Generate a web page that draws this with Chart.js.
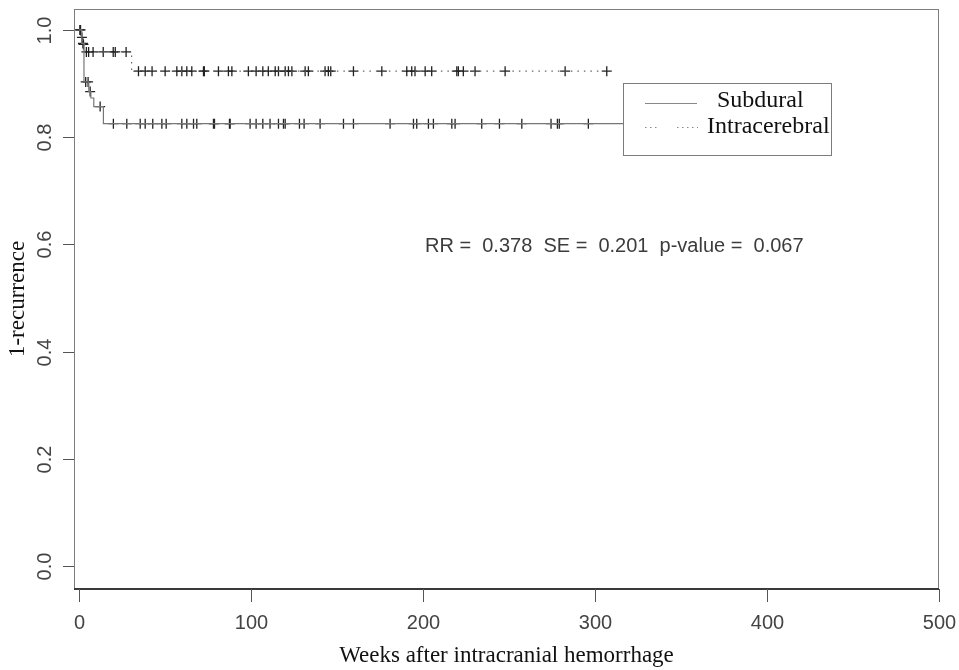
<!DOCTYPE html>
<html><head><meta charset="utf-8">
<script src="https://cdn.jsdelivr.net/npm/chart.js@4.4.0/dist/chart.umd.min.js"></script>
<style>html,body{margin:0;padding:0;background:#fff;}#wrap{width:959px;height:670px;}</style>
</head><body><div id="wrap"><canvas id="c" width="959" height="670"></canvas></div>
<script>
// ---- data (weeks, survival) ----
const subduralTimes = [0, 1.5, 2.8, 5.6, 6.8, 8.5, 14.1];
const subduralSurv  = [1.0, 0.975, 0.903, 0.885, 0.873, 0.857, 0.825];
const subduralEnd   = 320;
const subduralCensor = [0.8, 2.2, 3.8, 5.2, 6.4, 12.2, 19.9, 27.7, 35.5, 38.4, 42.8, 48.1, 50.6, 59.7, 62.6, 66.5, 68.4,
  78.1, 78.7, 87.4, 87.8, 99.4, 102.9, 106.8, 111, 115.9, 118.8, 119.8, 128.1, 130.8, 140.1, 153.7, 159.5, 180.8,
  194.4, 196.3, 203.1, 206, 216.7, 218.6, 234.1, 244.4, 257.4, 274.4, 278.1, 279.2, 296.1];

const intraTimes = [0, 1.0, 2.0, 3.2, 30.5];
const intraSurv  = [1.0, 0.986, 0.973, 0.959, 0.923];
const intraEnd   = 308;
const intraCensor = [0.4, 1.6, 2.5, 4.2, 5.5, 8.1, 14, 19.8, 21, 27.3, 34.5, 38.4, 42.4, 50, 56.8, 59.7, 62.6, 65.5,
  72.3, 72.8, 81, 86.8, 88.8, 98.4, 102.9, 106.8, 110, 114, 115.9, 119.8, 121.7, 123.7, 131.4, 133.3, 143, 144.9,
  146.3, 159.5, 176, 190.5, 193.4, 195.3, 201.2, 205, 219.6, 220.5, 223.4, 230.2, 247.7, 282.6, 306.8];

const xTickValues = [0, 100, 200, 300, 400, 500];
const xTickLabels = ['0', '100', '200', '300', '400', '500'];
const yTickValues = [0.0, 0.2, 0.4, 0.6, 0.8, 1.0];
const yTickLabels = ['0.0', '0.2', '0.4', '0.6', '0.8', '1.0'];
const seriesNames = ['Subdural', 'Intracerebral'];
const xTitle = 'Weeks after intracranial hemorrhage';
const yTitle = '1-recurrence';
const statText = 'RR =  0.378  SE =  0.201  p-value =  0.067';

// ---- helpers ----
function stepValue(times, surv, t) {
  let v = surv[0];
  for (let i = 0; i < times.length; i++) if (times[i] <= t) v = surv[i];
  return v;
}
function curve(times, surv, end) {
  const pts = times.map((t, i) => ({x: t, y: surv[i]}));
  pts.push({x: end, y: surv[surv.length - 1]});
  return pts;
}
function marks(times, surv, cens) {
  return cens.map(t => ({x: t, y: stepValue(times, surv, t)}));
}

const SANS = '"Liberation Sans", Arial, sans-serif';
const SERIF = '"Liberation Serif", "Times New Roman", serif';

const decor = {
  id: 'decor',
  afterDraw(chart) {
    const ctx = chart.ctx, a = chart.chartArea;
    const xs = chart.scales.x, ys = chart.scales.y;
    ctx.save();
    // box
    ctx.strokeStyle = '#7d7d7d'; ctx.lineWidth = 1;
    ctx.strokeRect(a.left + 0.5, a.top + 0.5, a.right - a.left - 1, a.bottom - a.top);
    // bottom axis line (darker)
    ctx.strokeStyle = '#3a3a3a'; ctx.lineWidth = 2;
    ctx.beginPath(); ctx.moveTo(a.left, a.bottom); ctx.lineTo(a.right, a.bottom); ctx.stroke();
    // x ticks + labels
    ctx.strokeStyle = '#555'; ctx.lineWidth = 1;
    ctx.fillStyle = '#444';
    ctx.font = '20px ' + SANS; ctx.textAlign = 'center'; ctx.textBaseline = 'middle';
    xTickValues.forEach((v, i) => {
      const px = Math.round(xs.getPixelForValue(v)) + 0.5;
      ctx.beginPath(); ctx.moveTo(px, a.bottom); ctx.lineTo(px, a.bottom + 13); ctx.stroke();
      ctx.fillText(xTickLabels[i], px, a.bottom + 34);
    });
    // y ticks + labels (rotated)
    yTickValues.forEach((v, i) => {
      const py = Math.round(ys.getPixelForValue(v)) + 0.5;
      ctx.beginPath(); ctx.moveTo(a.left, py); ctx.lineTo(a.left - 11, py); ctx.stroke();
      ctx.save(); ctx.translate(a.left - 29, py); ctx.rotate(-Math.PI / 2);
      ctx.fillText(yTickLabels[i], 0, 0); ctx.restore();
    });
    // axis titles
    ctx.fillStyle = '#111';
    ctx.font = '23px ' + SERIF;
    ctx.fillText(xTitle, (a.left + a.right) / 2, 656);
    ctx.save(); ctx.translate(18, (a.top + a.bottom) / 2); ctx.rotate(-Math.PI / 2);
    ctx.fillText(yTitle, 0, 0); ctx.restore();
    // stats text
    ctx.fillStyle = '#3c3c3c';
    ctx.font = '20px ' + SANS; ctx.textAlign = 'left';
    ctx.fillText(statText, 425, 246);
    // legend
    ctx.fillStyle = '#fff';
    ctx.fillRect(623, 83, 208, 72);
    ctx.strokeStyle = '#7d7d7d'; ctx.lineWidth = 1;
    ctx.strokeRect(623.5, 83.5, 208, 72);
    ctx.strokeStyle = '#888'; ctx.lineWidth = 1.2;
    ctx.beginPath(); ctx.moveTo(645, 103.5); ctx.lineTo(697, 103.5); ctx.stroke();
    ctx.setLineDash([1.5, 3.5]);
    ctx.beginPath(); ctx.moveTo(645, 127.5); ctx.lineTo(659, 127.5); ctx.stroke();
    ctx.beginPath(); ctx.moveTo(677, 127.5); ctx.lineTo(698, 127.5); ctx.stroke();
    ctx.setLineDash([]);
    ctx.fillStyle = '#111'; ctx.font = '24px ' + SERIF; ctx.textAlign = 'left';
    ctx.fillText(seriesNames[0], 717, 101);
    ctx.fillText(seriesNames[1], 707, 127);
    ctx.restore();
  }
};

new Chart(document.getElementById('c'), {
  type: 'scatter',
  data: {
    datasets: [
      {label: seriesNames[0], type: 'line', data: curve(subduralTimes, subduralSurv, subduralEnd),
       stepped: true, borderColor: '#777', borderWidth: 1.2, pointRadius: 0, fill: false},
      {label: seriesNames[1], type: 'line', data: curve(intraTimes, intraSurv, intraEnd),
       stepped: true, borderColor: '#666', borderWidth: 1.2, borderDash: [1.5, 5], pointRadius: 0, fill: false},
      {label: seriesNames[0] + ' censored', data: marks(subduralTimes, subduralSurv, subduralCensor),
       pointStyle: 'cross', pointRadius: 5, borderColor: '#222', borderWidth: 1.3, backgroundColor: '#222'},
      {label: seriesNames[1] + ' censored', data: marks(intraTimes, intraSurv, intraCensor),
       pointStyle: 'cross', pointRadius: 5, borderColor: '#222', borderWidth: 1.3, backgroundColor: '#222'}
    ]
  },
  options: {
    responsive: false, animation: false,
    layout: {padding: {left: 74, right: 20, top: 9, bottom: 81}},
    scales: {
      x: {type: 'linear', min: -3, max: 500, display: false},
      y: {type: 'linear', min: -0.043, max: 1.039, display: false}
    },
    plugins: {legend: {display: false}, tooltip: {enabled: false}},
    elements: {line: {tension: 0}}
  },
  plugins: [decor]
});
</script></body></html>
